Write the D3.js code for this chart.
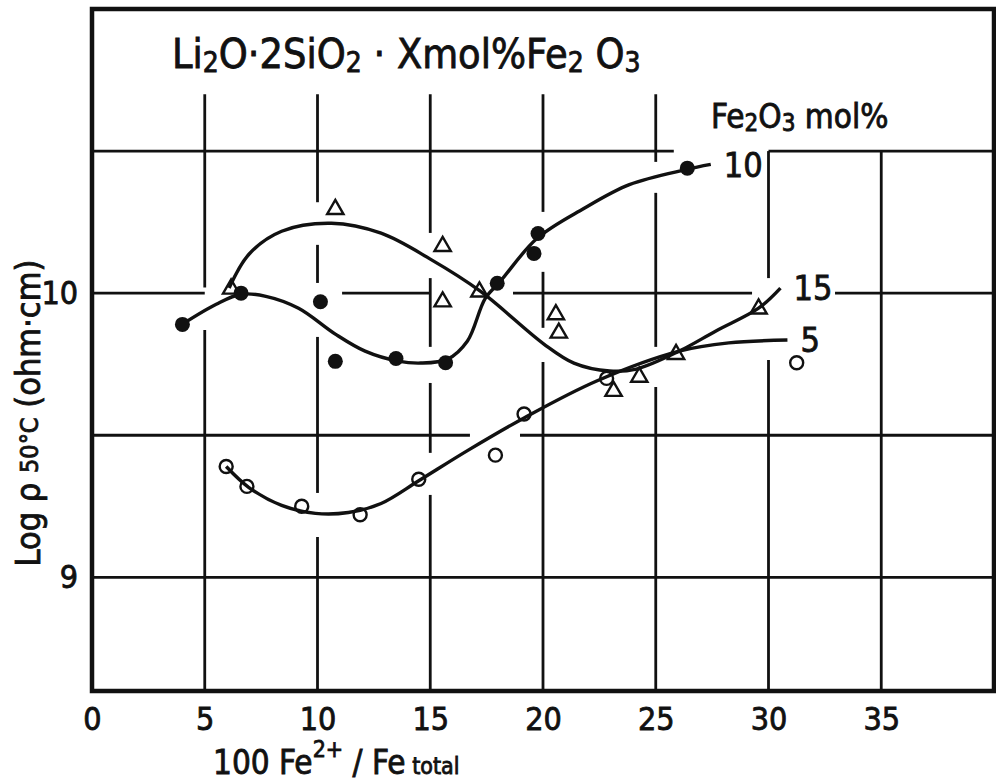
<!DOCTYPE html>
<html lang="en">
<head>
<meta charset="utf-8">
<title>Log rho vs Fe2+/Fe total</title>
<script src="https://d3js.org/d3.v7.min.js"></script>
<style>
body { margin: 0; background: #fff; }
text { font-family: "Liberation Sans Narrow", "DejaVu Sans Condensed", "Liberation Sans", sans-serif; fill: #111; stroke: #111; stroke-width: 0.8px; }
</style>
</head>
<body>
<div id="chart"></div>
<script>
// ticks and grid
var xTicks = [0, 5, 10, 15, 20, 25, 30, 35];
var yTicks = [9, 10];
var xGrid = [5, 10, 15, 20, 25, 30, 35];
var yGrid = [9, 9.5, 10, 10.5];

// measured points (100 Fe2+/Fe total, log rho 50C)
var mol5 = [[5.95, 9.39], [6.87, 9.32], [9.30, 9.25], [11.89, 9.22], [14.49, 9.345],
            [17.89, 9.43], [19.16, 9.575], [22.82, 9.70], [31.25, 9.755]];
var mol10 = [[4.01, 9.89], [6.61, 10.0], [10.13, 9.97], [10.79, 9.76], [13.48, 9.77],
             [15.68, 9.755], [17.97, 10.035], [19.6, 10.14], [19.78, 10.21], [26.4, 10.44]];
var mol15 = [[6.17, 10.015], [10.79, 10.295], [15.55, 10.165], [15.55, 9.97], [17.18, 10.005],
             [20.57, 9.925], [20.7, 9.86], [23.13, 9.655], [24.27, 9.705], [25.9, 9.785], [29.56, 9.945]];

// hand drawn fitted curves
var fit5 = [[5.95, 9.39], [6.96, 9.316], [8.41, 9.253], [9.91, 9.225], [11.37, 9.228], [12.82, 9.26],
            [14.49, 9.34], [16.65, 9.446], [19.16, 9.561], [22.38, 9.691], [26.04, 9.796],
            [28.24, 9.825], [30.84, 9.835]];
var fit10 = [[4.01, 9.891], [5.51, 9.961], [6.61, 9.996], [7.71, 9.989], [9.16, 9.947], [10.79, 9.856],
             [12.11, 9.796], [13.57, 9.761], [14.58, 9.754], [15.77, 9.768], [16.65, 9.832],
             [17.44, 9.982], [18.11, 10.042], [19.74, 10.193], [21.81, 10.298], [23.83, 10.382],
             [26.34, 10.435], [27.44, 10.453]];
var fit15 = [[6.08, 10.018], [6.96, 10.137], [8.41, 10.218], [10.62, 10.246], [12.82, 10.211],
             [15.02, 10.119], [17.22, 10.007], [20.04, 9.821], [21.37, 9.754], [22.95, 9.726],
             [24.14, 9.733], [26.04, 9.796], [27.67, 9.867], [29.56, 9.947], [30.53, 10.018]];

var curveLabels = ["5", "10", "15"];

// where the drafted grid lines are broken (value units)
var vGridTop = {5: 10.7, 10: 10.7, 15: 10.7, 20: 10.7, 25: 10.7, 30: 10.5, 35: 10.5};
var vGridGaps = {
  5: [[9.87, 10.02]],
  10: [[10.17, 10.32], [9.846, 10.036], [9.142, 9.297]],
  15: [[10.053, 10.212], [9.684, 9.811], [9.29, 9.438]],
  20: [[10.075, 10.286], [9.758, 9.878]],
  25: [[10.353, 10.462], [9.67, 9.811]],
  30: [[9.765, 10.053]],
  35: []
};
var hGridGaps = {
  9: [],
  9.5: [[16.76, 18.98]],
  10: [[5.0, 11.09], [15.0, 18.67], [29.27, 32.95]],
  10.5: [[25.8, 30]]
};

var W = 996, H = 783;
var svg = d3.select("#chart").append("svg")
  .attr("width", W)
  .attr("height", H);

var x = d3.scaleLinear().domain([0, 40]).range([92, 994]);
var y = d3.scaleLinear().domain([8.6, 11]).range([691, 9]);

function pieces(lo, hi, gaps) {
  var out = [], a = lo;
  gaps.slice().sort(function(p, q) { return p[0] - q[0]; }).forEach(function(g) {
    if (g[0] > a) out.push([a, g[0]]);
    a = Math.max(a, g[1]);
  });
  if (a < hi) out.push([a, hi]);
  return out;
}

var grid = svg.append("g").attr("stroke", "#111").attr("stroke-width", 2.8);
xGrid.forEach(function(v) {
  pieces(8.6, vGridTop[v], vGridGaps[v]).forEach(function(s) {
    grid.append("line")
      .attr("x1", x(v)).attr("x2", x(v))
      .attr("y1", y(s[0])).attr("y2", y(s[1]));
  });
});
yGrid.forEach(function(v) {
  pieces(0, 40, hGridGaps[v]).forEach(function(s) {
    grid.append("line")
      .attr("x1", x(s[0])).attr("x2", x(s[1]))
      .attr("y1", y(v)).attr("y2", y(v));
  });
});

// frame
svg.append("rect")
  .attr("x", x(0)).attr("y", y(11))
  .attr("width", x(40) - x(0)).attr("height", y(8.6) - y(11))
  .attr("fill", "none").attr("stroke", "#111").attr("stroke-width", 4.5);

// axes (labels only)
var xAxis = svg.append("g")
  .attr("transform", "translate(0," + y(8.6) + ")")
  .call(d3.axisBottom(x).tickValues(xTicks).tickSize(0).tickPadding(16).tickFormat(d3.format("d")));
var yAxis = svg.append("g")
  .attr("transform", "translate(" + x(0) + ",0)")
  .call(d3.axisLeft(y).tickValues(yTicks).tickSize(0).tickPadding(14).tickFormat(d3.format("d")));
[xAxis, yAxis].forEach(function(a) {
  a.select(".domain").remove();
  a.selectAll("text")
    .style("font-family", "'Liberation Sans Narrow', 'DejaVu Sans Condensed', sans-serif")
    .style("font-size", "32px")
    .attr("fill", "#111");
});

// curves
var line = d3.line()
  .x(function(d) { return x(d[0]); })
  .y(function(d) { return y(d[1]); })
  .curve(d3.curveCatmullRom.alpha(0.5));

[fit5, fit10, fit15].forEach(function(f, i) {
  svg.append("path")
    .attr("d", line(f))
    .attr("fill", "none")
    .attr("stroke", "#111")
    .attr("stroke-width", 3.4);
  var last = f[f.length - 1];
  svg.append("text")
    .attr("x", x(last[0]) + 13)
    .attr("y", y(last[1]))
    .attr("dy", "0.36em")
    .style("font-size", "34px")
    .text(curveLabels[i]);
});

// markers
svg.append("g").selectAll("circle")
  .data(mol5).enter().append("circle")
  .attr("cx", function(d) { return x(d[0]); })
  .attr("cy", function(d) { return y(d[1]); })
  .attr("r", 6.5)
  .attr("fill", "none")
  .attr("stroke", "#111").attr("stroke-width", 2.4);

svg.append("g").selectAll("circle")
  .data(mol10).enter().append("circle")
  .attr("cx", function(d) { return x(d[0]); })
  .attr("cy", function(d) { return y(d[1]); })
  .attr("r", 7.5)
  .attr("fill", "#111");

var tri = d3.symbol().type(d3.symbolTriangle).size(115);
svg.append("g").selectAll("path")
  .data(mol15).enter().append("path")
  .attr("d", tri)
  .attr("transform", function(d) { return "translate(" + x(d[0]) + "," + y(d[1]) + ")"; })
  .attr("fill", "none")
  .attr("stroke", "#111").attr("stroke-width", 2.4);

// title
var title = svg.append("text")
  .attr("x", 172).attr("y", 68)
  .style("font-size", "41px");
[["Li", 0], ["2", 1], ["O·2SiO", 0], ["2", 1], [" · Xmol%Fe", 0], ["2", 1], [" O", 0], ["3", 1]].forEach(function(p, i) {
  title.append("tspan")
    .style("font-size", p[1] ? "28px" : "41px")
    .attr("dy", i === 0 ? 0 : (p[1] ? 4 : -4))
    .text(p[0]);
});

// legend heading
var leg = svg.append("text")
  .attr("x", 711).attr("y", 128)
  .style("font-size", "33px");
leg.append("tspan").text("Fe");
leg.append("tspan").style("font-size", "24px").attr("dy", 3).text("2");
leg.append("tspan").attr("dy", -3).text("O");
leg.append("tspan").style("font-size", "24px").attr("dy", 3).text("3");
leg.append("tspan").attr("dy", -3).text("  mol%");

// y axis title
var yt = svg.append("text")
  .attr("transform", "translate(40,413) rotate(-90)")
  .attr("text-anchor", "middle")
  .style("font-size", "34px");
yt.append("tspan").text("Log ρ ");
yt.append("tspan").style("font-size", "25px").attr("dy", -2).text("50°C");
yt.append("tspan").attr("dy", 2).text("  (ohm·cm)");

// x axis title
var xt = svg.append("text")
  .attr("x", 213).attr("y", 774)
  .style("font-size", "33px");
xt.append("tspan").text("100 Fe");
xt.append("tspan").style("font-size", "23px").attr("dy", -17).text("2+");
xt.append("tspan").attr("dy", 17).text(" / Fe");
xt.append("tspan").style("font-size", "23px").text(" total");
</script>
</body>
</html>
